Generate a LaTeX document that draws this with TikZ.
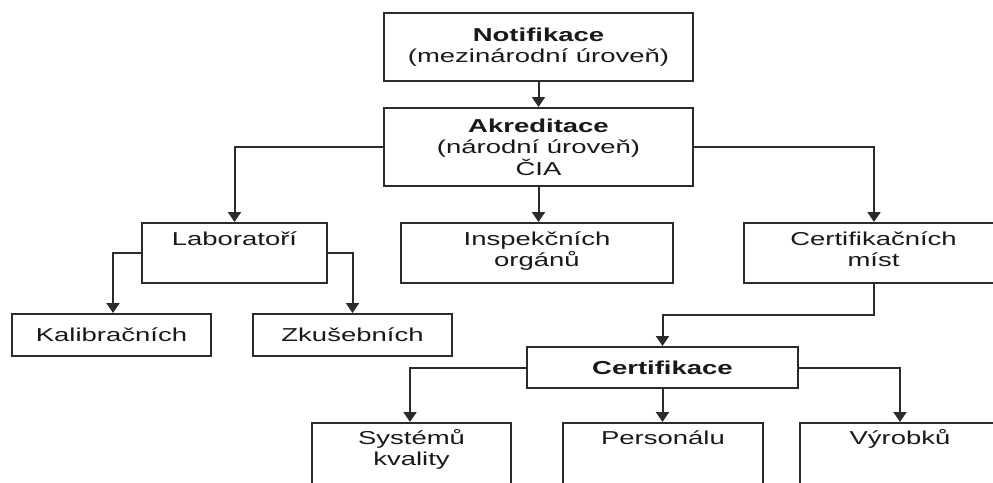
\documentclass[tikz,border=0pt]{standalone}
\usepackage{fontspec}
\setmainfont{Liberation Sans}[FakeStretch=1.47]
\usetikzlibrary{arrows.meta}
\definecolor{ink}{rgb}{0.1,0.1,0.1}
\definecolor{rule}{rgb}{0.17,0.17,0.17}
\begin{document}
\begin{tikzpicture}[x=1pt,y=-1pt,
  font=\fontsize{18.7}{21.5}\selectfont,
  box/.style={draw=rule, line width=2pt, fill=white, inner sep=0pt, text=ink, align=center},
  txt/.style={text=ink, inner sep=0pt, align=center, anchor=base},
  arr/.style={draw=rule, line width=2pt, -{Triangle[width=13pt,length=10pt]}}]
\useasboundingbox (0,0) rectangle (993,482);
\clip (0,0) rectangle (993,482);

% top levels
\node[box, minimum width=309, minimum height=68] (notif) at (538.5,47)
  {\textbf{Notifikace}\\(mezinárodní úroveň)};
\node[box, minimum width=309, minimum height=78] (akred) at (538.5,147)
  {\textbf{Akreditace}\\(národní úroveň)\\ČIA};

% accredited bodies (text hangs from the top edge; base = last line)
\node[box, minimum width=185, minimum height=60] (lab) at (234.5,253) {};
\node[box, minimum width=272, minimum height=60] (insp) at (537,253) {};
\node[box, minimum width=259, minimum height=60] (certm) at (873.5,253) {};
\node[txt] (labt) at ([yshift=-23pt]lab.north) {Laboratoří};
\node[txt] (inspt) at ([yshift=-44.5pt]insp.north) {Inspekčních\\orgánů};
\node[txt] (certmt) at ([yshift=-44.5pt]certm.north) {Certifikačních\\míst};

% laboratories
\node[box, minimum width=199, minimum height=42] (kal) at (111.5,335) {Kalibračních};
\node[box, minimum width=199, minimum height=42] (zku) at (352.5,335) {Zkušebních};

% certification
\node[box, minimum width=271, minimum height=41] (certif) at (662.5,367.5) {\textbf{Certifikace}};
\node[box, minimum width=199, minimum height=90] (sys) at (411.5,468) {};
\node[box, minimum width=200, minimum height=90] (pers) at (663,468) {};
\node[box, minimum width=200, minimum height=90] (vyr) at (900,468) {};
\node[txt] (syst) at ([yshift=-43.5pt]sys.north) {Systémů\\kvality};
\node[txt] (perst) at ([yshift=-22pt]pers.north) {Personálu};
\node[txt] (vyrt) at ([yshift=-22pt]vyr.north) {Výrobků};

% connectors
\draw[arr] (notif.south) -- (akred.north);
\draw[arr] (akred.west) -| (lab.north);
\draw[arr] (akred.south) -- (akred.south |- insp.north);
\draw[arr] (akred.east) -| ([xshift=0.5pt]certm.north);
\draw[arr] (lab.west) -| ([xshift=1.5pt]kal.north);
\draw[arr] (lab.east) -| (zku.north);
\draw[arr] ([xshift=0.5pt]certm.south) -- ++(0,31) -| (certif.north);
\draw[arr] (certif.west) -| ([xshift=-1.5pt]sys.north);
\draw[arr] (certif.south) -- (certif.south |- pers.north);
\draw[arr] (certif.east) -| (vyr.north);
\end{tikzpicture}
\end{document}
